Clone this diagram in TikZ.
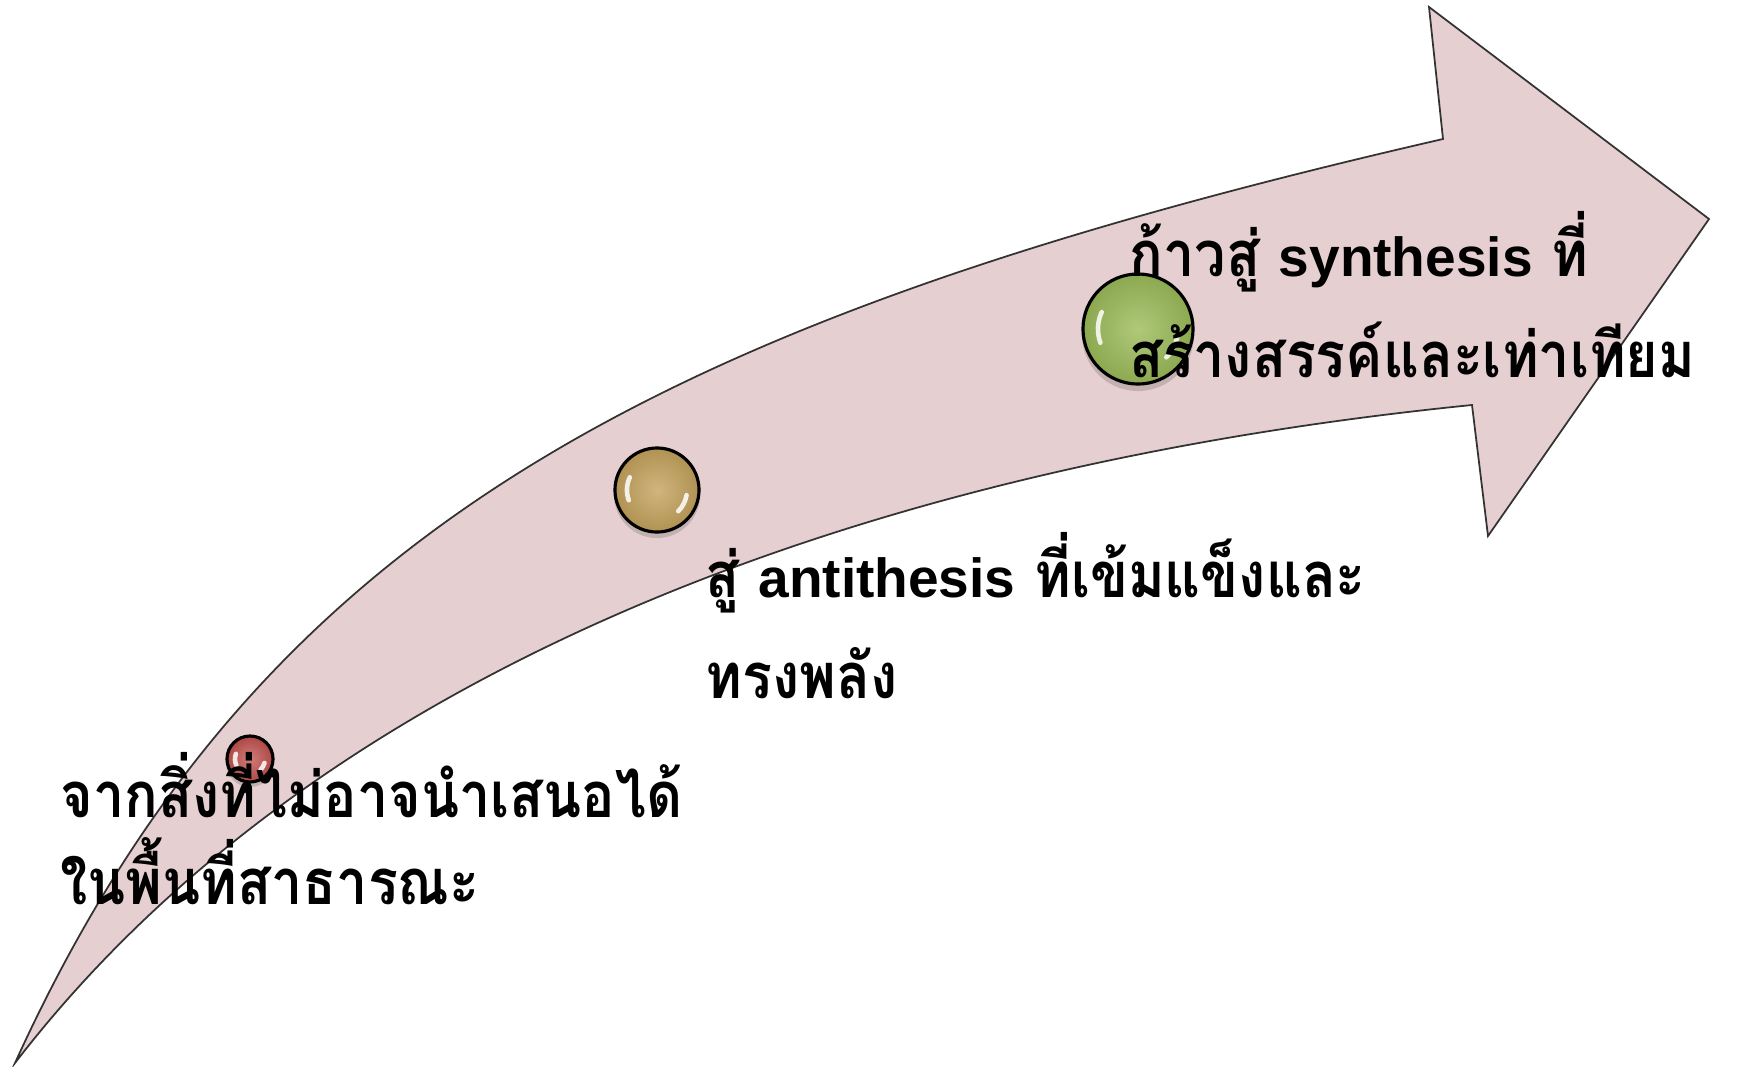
\documentclass[tikz,border=0pt]{standalone}
\usepackage{fontspec}
\newfontfamily\thaifont[Script=Thai, FakeStretch=0.88]{Loma}
\newfontfamily\latinfont[Scale=0.87]{Liberation Sans}
\definecolor{arrowpink}{RGB}{230,207,208}
\definecolor{ballred}{RGB}{192,80,77}
\definecolor{ballgold}{RGB}{196,162,92}
\definecolor{ballgreen}{RGB}{155,187,89}
\newcommand{\en}[1]{{\latinfont\bfseries #1}}

\begin{document}
\begin{tikzpicture}[x=0.01cm, y=-0.01cm,
    ball/.style={circle, draw=black, line width=0.9pt, inner sep=0pt},
    shine/.style={white, line width=1.3pt, line cap=round, opacity=0.85},
    stagetext/.style={anchor=base west, inner sep=0pt, align=left,
      font=\thaifont\bfseries\fontsize{18}{28.7}\selectfont}]
    \useasboundingbox (0,0) rectangle (1754,1066);

    % curved arrow
    \coordinate (Tail) at (15,1063);
    \coordinate (Top) at (1443,139);
    \coordinate (Bot) at (1472,405);
    \filldraw[fill=arrowpink, draw=black!80, line width=0.5pt, line join=miter]
      (Tail) .. controls (257,531) and (655,320) .. (Top)
      -- (1429,7) -- (1709,219) -- (1488,536) -- (Bot)
      .. controls (854,467) and (314,674) .. (Tail) -- cycle;

    % red ball
    \fill[black, opacity=0.15] (250,763) circle (0.24cm);
    \node[ball, shade, inner color=ballred!75!white, outer color=ballred!90!black, minimum size=0.46cm] (B1) at (250,759) {};
    \draw[shine] (B1.center) ++(160:0.15cm) arc[start angle=160, end angle=205, radius=0.15cm];
    \draw[shine] (B1.center) ++(-15:0.15cm) arc[start angle=-15, end angle=-45, radius=0.15cm];

    % gold ball
    \fill[black, opacity=0.15] (657,495) circle (0.43cm);
    \node[ball, shade, inner color=ballgold!80!white, outer color=ballgold!90!black, minimum size=0.84cm] (B2) at (657,490) {};
    \draw[shine] (B2.center) ++(155:0.3cm) arc[start angle=155, end angle=200, radius=0.3cm];
    \draw[shine] (B2.center) ++(-10:0.3cm) arc[start angle=-10, end angle=-45, radius=0.3cm];

    % green ball
    \fill[black, opacity=0.15] (1138,335) circle (0.56cm);
    \node[ball, shade, inner color=ballgreen!80!white, outer color=ballgreen!90!black, minimum size=1.1cm] (B3) at (1138,329) {};
    \draw[shine] (B3.center) ++(155:0.4cm) arc[start angle=155, end angle=200, radius=0.4cm];
    \draw[shine] (B3.center) ++(-10:0.4cm) arc[start angle=-10, end angle=-45, radius=0.4cm];

    % stages (anchored at the baseline of the last line)
    \node[stagetext, font=\thaifont\bfseries\fontsize{18}{24.7}\selectfont] (T1) at (60,904) {จากสิ่งที่ไม่อาจนำเสนอได้\\ในพื้นที่สาธารณะ};
    \node[stagetext] (T2) at (705,698) {สู่ \en{antithesis} ที่เข้มแข็งและ\\ทรงพลัง};
    \node[stagetext] (T3) at (1129,377) {ก้าวสู่ \en{synthesis} ที่\\สร้างสรรค์และเท่าเทียม};
\end{tikzpicture}
\end{document}
